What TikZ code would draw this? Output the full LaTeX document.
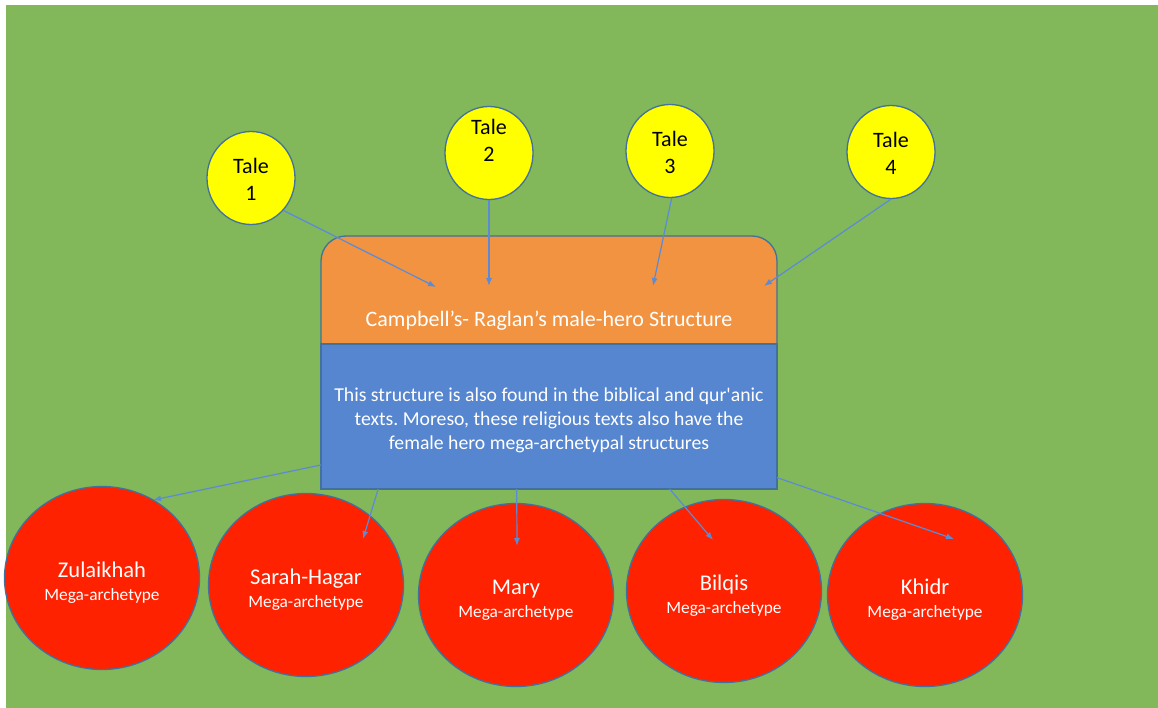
\documentclass[tikz,border=0pt]{standalone}
\usepackage{fontspec}
\setmainfont{Carlito}
\usetikzlibrary{shapes.geometric,arrows.meta}
\definecolor{bggreen}{HTML}{82B75A}
\definecolor{taleyellow}{HTML}{FFFF00}
\definecolor{headorange}{HTML}{F19340}
\definecolor{bodyblue}{HTML}{5586CF}
\definecolor{herored}{HTML}{FF2200}
\definecolor{rimblue}{HTML}{41719C}
\definecolor{linkblue}{HTML}{5B8BD6}
\newcommand{\megaline}{{\fontsize{17.3}{20}\selectfont Mega-archetype}}
\frenchspacing
\begin{document}
\begin{tikzpicture}[x=1pt,y=-1pt,
  taletext/.style={align=center,text height=45pt,font=\fontsize{22}{27}\selectfont},
  tale/.style={ellipse,draw=rimblue,line width=1.3pt,fill=taleyellow,minimum width=88pt,minimum height=93pt,inner sep=0pt,taletext},
  hero/.style={ellipse,draw=rimblue,line width=1.3pt,fill=herored,minimum width=195pt,minimum height=183pt,inner sep=0pt,align=center,text=white,text height=48pt,font=\fontsize{22.5}{23}\selectfont},
  bodybox/.style={rectangle,draw=rimblue,line width=1.3pt,fill=bodyblue,minimum width=456pt,minimum height=145pt,inner sep=0pt,outer sep=0pt,align=center,text=white,text height=70pt,font=\fontsize{19.7}{24}\selectfont},
  headbox/.style={draw=rimblue,line width=1.3pt,fill=headorange,rounded corners=25pt},
  headtext/.style={text=white,font=\fontsize{22}{26}\selectfont},
  link/.style={draw=linkblue,line width=1.2pt,-{Latex[length=8pt,width=6pt]}}]
\useasboundingbox (0,0) rectangle (1158,708);
\fill[white] (0,0) rectangle (1158,708);
\fill[bggreen] (6,5) rectangle (1158,708);

\node[bodybox] (body) at (549,416.5) {This structure is also found in the biblical and qur\textquotesingle anic\\texts. Moreso, these religious texts also have the\\female hero mega-archetypal structures};
\filldraw[headbox] (body.north west) -- ++(0,-108) -- ++(456,0) -- (body.north east);
\draw[rimblue,line width=1.3pt] (body.north west) -- (body.north east);
\node[headtext] (head) at (549,321) {Campbell’s- Raglan’s male-hero Structure};

\node[tale] (tale1) at (251,178) {Tale\\1};
\node[tale,label={[taletext,yshift=14pt]center:Tale\\2}] (tale2) at (489,153) {};
\node[tale] (tale3) at (670,151) {Tale\\3};
\node[tale] (tale4) at (891,152) {Tale\\4};

\node[hero] (zulaikhah) at (102,578) {Zulaikhah\\\megaline};
\node[hero] (sarah) at (306,585) {Sarah-Hagar\\\megaline};
\node[hero] (mary) at (516,595) {Mary\\\megaline};
\node[hero] (bilqis) at (724,591) {Bilqis\\\megaline};
\node[hero] (khidr) at (925,595) {Khidr\\\megaline};

\coordinate (in1) at (436,287);
\coordinate (in2) at (489,286);
\coordinate (in3) at (653,286);
\coordinate (in4) at (764,286);
\coordinate (zulaikhahtip) at (153,500);
\coordinate (sarahtip) at (363,539);
\coordinate (marytip) at (517,546);
\coordinate (bilqistip) at (713,540);
\coordinate (khidrtip) at (954,539);

\draw[link] (tale1.-45) -- (in1);
\draw[link] (tale2.south) -- (in2);
\draw[link] (tale3.-88) -- (in3);
\draw[link] (tale4.south) -- (in4);
\draw[link] (body.192) -- (zulaikhahtip);
\draw[link] (body.203) -- (sarahtip);
\draw[link] (body.246) -- (marytip);
\draw[link] (body.329.5) -- (bilqistip);
\draw[link] (body.345) -- (khidrtip);
\end{tikzpicture}
\end{document}
